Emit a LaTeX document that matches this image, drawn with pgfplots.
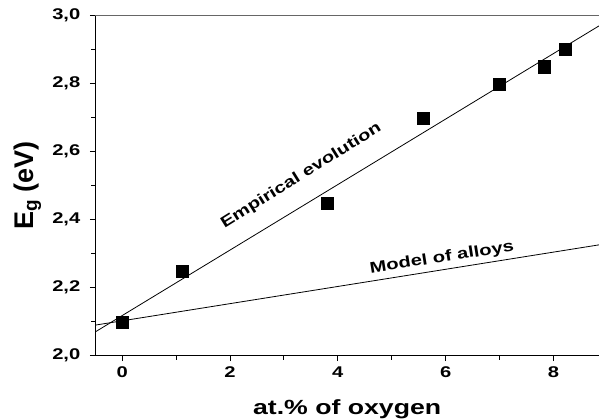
\documentclass[border=0pt]{standalone}
\usepackage{fontspec}
\setmainfont{Liberation Sans}[FakeStretch=1.3]
\newfontfamily\ylabfont{Liberation Sans}
\usepackage{pgfplots}
\pgfplotsset{compat=1.18}
\begin{document}
\begin{tikzpicture}
\begin{axis}[
 scale only axis, width=503.7pt, height=340pt,
 xmin=-0.5, xmax=8.845, ymin=2, ymax=3,
 axis x line*=bottom, axis y line*=left,
 axis line style={-, line width=1.2pt},
 tick align=outside, major tick length=5.5pt, minor tick length=4pt,
 tick style={line width=1pt, black},
 xtick={0,2,4,6,8}, minor x tick num=1,
 ytick={2,2.2,2.4,2.6,2.8,3}, minor y tick num=1,
 /pgf/number format/assume math mode=true,
 yticklabel style={xshift=-6pt, /pgf/number format/.cd, fixed, fixed zerofill, precision=1, use comma},
 xticklabel style={yshift=-2pt},
 tick label style={font=\bfseries\fontsize{15.5}{15.5}\selectfont},
 xlabel={at.\% of oxygen},
 xlabel style={font=\bfseries\fontsize{20.5}{20.5}\selectfont, at={(axis description cs:0.5,-0.1715)}, anchor=base},
 ylabel={E\textsubscript{g} (eV)},
 ylabel style={font=\ylabfont\bfseries\fontsize{27}{27}\selectfont, at={(axis description cs:-0.1346,0.5)}, anchor=center},
 clip=false,
]
\addplot[black, line width=0.8pt] coordinates {(-0.5,2.07) (8.845,2.97)};
\addplot[black, line width=0.8pt] coordinates {(-0.5,2.09) (8.845,2.326)};
\addplot[only marks, mark=square*, mark size=6pt, black] coordinates {
(0,2.10) (1.12,2.25) (3.80,2.45) (5.58,2.70) (6.99,2.80) (7.82,2.85) (8.21,2.90)};
\draw[black!60, line width=1pt] (rel axis cs:0,1) -- (rel axis cs:1,1);
\node[rotate=32, font=\bfseries\fontsize{15.5}{15.5}\selectfont] at (axis cs:3.32,2.529) {Empirical evolution};
\node[rotate=9, font=\bfseries\fontsize{15.5}{15.5}\selectfont] at (axis cs:5.93,2.287) {Model of alloys};
\coordinate (bl) at (rel axis cs:0,0);
\end{axis}
\pgfresetboundingbox
\path[use as bounding box] ([shift={(-95.3pt,-62.3pt)}]bl) rectangle ([shift={(503.7pt,355.7pt)}]bl);
\end{tikzpicture}
\end{document}
